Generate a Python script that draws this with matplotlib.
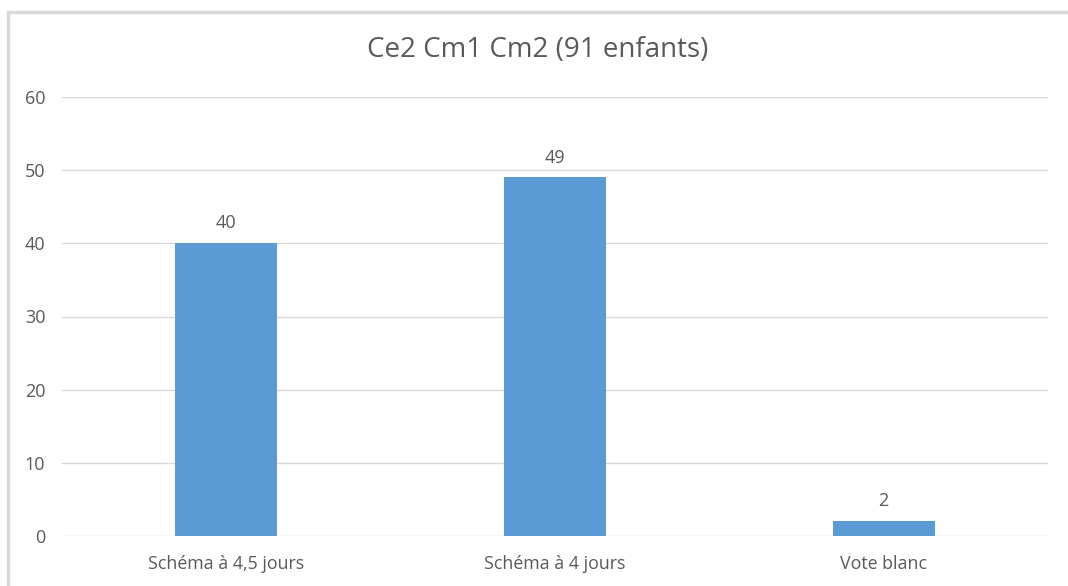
import matplotlib.pyplot as plt
from matplotlib.patches import Rectangle

categories = ["Schéma à 4,5 jours", "Schéma à 4 jours", "Vote blanc"]
values = [40, 49, 2]
yticks = [0, 10, 20, 30, 40, 50, 60]
title = "Ce2 Cm1 Cm2 (91 enfants)"

plt.rcParams['font.family'] = ['Open Sans', 'DejaVu Sans']
text_color = "#595959"

fig = plt.figure(figsize=(10.68, 5.86), dpi=100)
ax = fig.add_axes([62 / 1068, 50 / 586, 986 / 1068, 439 / 586])

# chart border (Excel style)
fig.patches.append(Rectangle((8 / 1068, -0.1), 1.2, (586 - 12) / 586 + 0.1,
                             transform=fig.transFigure, fill=False,
                             edgecolor="#D9D9D9", linewidth=2.5))

x = range(len(categories))
bars = ax.bar(x, values, width=0.31, color="#5B9BD5", zorder=3)
for b, v in zip(bars, values):
    ax.text(b.get_x() + b.get_width() / 2, v + 1.5, str(v), ha="center", va="bottom",
            fontsize=13, color=text_color)

ax.set_xlim(-0.5, len(categories) - 0.5)
ax.set_ylim(0, 60)
ax.set_yticks(yticks)
ax.set_xticks(list(x))
ax.set_xticklabels(categories, fontsize=12.8, color=text_color)
ax.tick_params(axis="y", labelsize=13, colors=text_color, length=0, pad=12)
ax.tick_params(axis="x", length=0, pad=14)
ax.grid(axis="y", color="#D9D9D9", linewidth=1, zorder=0)
for s in ax.spines.values():
    s.set_visible(False)

fig.text(538 / 1068, 1 - 50 / 586, title, ha="center", va="center",
         fontsize=20, color=text_color)

plt.savefig("out.png", dpi=100)
plt.close()
